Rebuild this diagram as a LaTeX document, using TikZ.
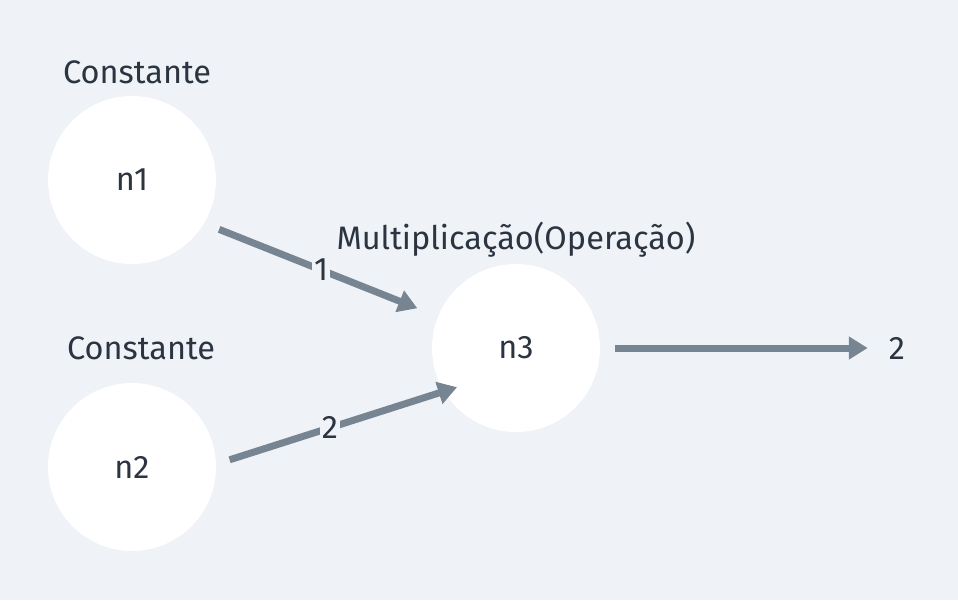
\documentclass[tikz,border=0pt]{standalone}
\usepackage{fontspec}
\setmainfont{Fira Sans}
\usetikzlibrary{arrows.meta}
\definecolor{bgc}{HTML}{EFF3F7}
\definecolor{edgec}{HTML}{778592}
\definecolor{txtc}{HTML}{2B3440}
\tikzset{
  opnode/.style={circle,fill=white,minimum size=3.36cm,inner sep=0pt,text=txtc,font=\fontsize{18.5}{20}\selectfont},
  toplabel/.style={text=txtc,font=\fontsize{18.5}{20}\selectfont},
  wire/.style={edgec,line width=0.14cm,-{Triangle[length=0.38cm,width=0.44cm]}},
  wlabel/.style={fill=bgc,inner sep=1pt,text=txtc,font=\fontsize{18.5}{20}\selectfont}
}
\begin{document}
\begin{tikzpicture}[x=0.02cm,y=-0.02cm]
  \fill[bgc] (0,0) rectangle (958,600);
  \useasboundingbox (0,0) rectangle (958,600);
  %
  \node[opnode] (n1) at (132,180) {n1};
  \node[opnode] (n2) at (132,467) {n2};
  \node[opnode] (n3) at (516,348) {n3};
  \node[toplabel] (c1) at (137,72) {Constante};
  \node[toplabel] (c2) at (141,348) {Constante};
  \node[toplabel] (c3) at (516,240) {Multiplicação(Operação)};
  \node[text=txtc,font=\fontsize{18.5}{20}\selectfont] (out) at (897,348) {2};
  %
  \draw[wire,shorten <=0.32cm,shorten >=0.44cm] (n1.-31) -- node[wlabel]{1} (n3.158);
  \draw[wire,shorten <=0.28cm,shorten >=-0.28cm] (n2.2) -- node[wlabel]{2} (n3.211);
  \draw[wire,shorten <=0.3cm,shorten >=0.3cm] (n3) -- (out);
\end{tikzpicture}
\end{document}
